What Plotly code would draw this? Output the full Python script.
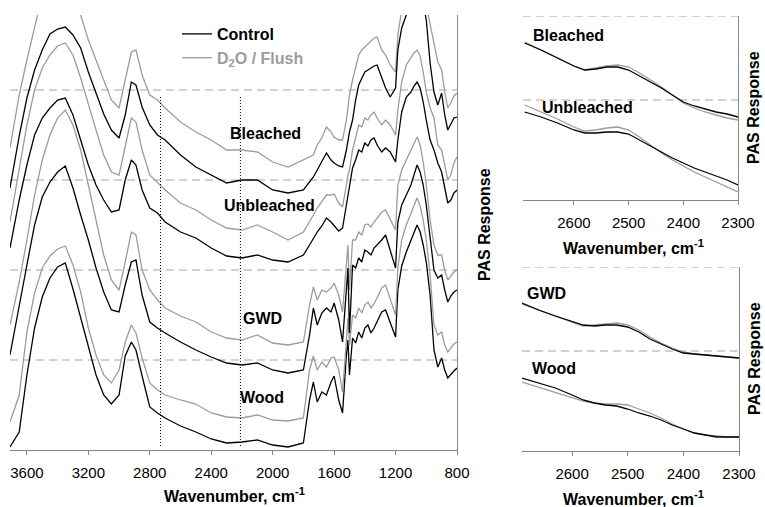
import plotly.graph_objects as go

# ---------------- data: main panel (PAS response, arbitrary units) ----------------
wavenumber = [3710, 3650, 3600, 3550, 3500, 3450, 3400, 3350, 3300, 3250, 3200, 3150, 3100, 3050,
              3000, 2960, 2920, 2890, 2850, 2800, 2750, 2700, 2600, 2500, 2400, 2300, 2200, 2100,
              2000, 1900, 1800, 1760, 1735, 1710, 1680, 1650, 1620, 1600, 1570, 1545, 1520, 1510,
              1500, 1480, 1460, 1440, 1420, 1400, 1380, 1360, 1340, 1320, 1290, 1265, 1235, 1200,
              1185, 1160, 1130, 1100, 1080, 1060, 1040, 1020, 1000, 975, 950, 925, 900, 880, 860,
              840, 820, 800]

wood_control = [3, 18, 75, 122, 153, 172, 183, 187, 161, 133, 103, 75, 55, 46, 55, 94, 108, 100, 74, 43,
                37, 32, 24, 18, 11, 7, 8, 10, 5, 3, 7, 50, 68, 48, 58, 55, 68, 74, 50, 37, 95, 110,
                75, 112, 107, 118, 112, 122, 125, 117, 122, 128, 138, 140, 128, 113, 160, 184, 198, 210,
                218, 225, 218, 205, 188, 155, 100, 83, 92, 80, 72, 76, 79, 82]
wood_d2o = [28, 55, 118, 157, 182, 194, 201, 204, 185, 158, 122, 95, 75, 67, 80, 108, 125, 117, 92, 67,
            60, 55, 50, 46, 37, 33, 32, 35, 30, 29, 32, 80, 94, 80, 88, 83, 92, 93, 80, 58, 110, 132,
            105, 135, 132, 142, 137, 145, 148, 142, 146, 152, 162, 165, 152, 135, 182, 210, 225, 237,
            245, 252, 244, 230, 210, 175, 125, 115, 118, 105, 98, 102, 106, 108]
gwd_control = [95, 142, 185, 225, 253, 268, 278, 284, 262, 235, 210, 182, 158, 140, 138, 165, 188, 190,
               155, 128, 122, 117, 108, 100, 93, 87, 85, 87, 80, 77, 80, 115, 142, 125, 137, 142, 138,
               147, 130, 108, 160, 182, 117, 185, 182, 192, 188, 200, 198, 195, 202, 205, 210, 215,
               200, 182, 228, 245, 255, 265, 275, 285, 278, 265, 245, 210, 180, 172, 175, 160, 148,
               154, 158, 160]
gwd_d2o = [125, 168, 210, 255, 290, 315, 332, 340, 325, 300, 265, 230, 195, 170, 160, 188, 218, 215, 180,
           160, 150, 142, 134, 128, 118, 112, 110, 115, 107, 105, 108, 145, 163, 150, 160, 158, 162, 167,
           155, 138, 185, 205, 160, 210, 210, 218, 215, 225, 226, 223, 228, 232, 238, 240, 230, 220,
           265, 280, 290, 300, 307, 313, 305, 288, 265, 230, 205, 195, 195, 180, 170, 174, 178, 180]
unbl_control = [202, 250, 285, 315, 332, 342, 350, 352, 335, 310, 285, 265, 250, 238, 240, 270, 290, 285,
                260, 242, 237, 228, 218, 212, 202, 194, 192, 195, 190, 188, 195, 205, 212, 218, 224, 232,
                228, 224, 219, 222, 245, 255, 264, 282, 290, 300, 298, 307, 304, 310, 312, 305, 298,
                302, 298, 288, 310, 338, 353, 358, 364, 368, 362, 348, 330, 310, 300, 287, 278, 262,
                247, 250, 257, 260]
unbl_d2o = [228, 280, 325, 360, 382, 395, 404, 407, 395, 372, 345, 320, 295, 278, 275, 305, 332, 328, 300,
            275, 267, 260, 247, 240, 230, 222, 220, 225, 218, 210, 218, 228, 235, 242, 248, 255, 255,
            256, 247, 243, 265, 275, 280, 300, 312, 325, 323, 332, 330, 335, 338, 332, 325, 330, 325,
            315, 340, 368, 385, 392, 397, 400, 394, 378, 358, 342, 332, 305, 300, 285, 270, 275, 287, 293]
bl_control = [262, 314, 352, 380, 400, 416, 421, 423, 415, 402, 378, 358, 336, 320, 312, 335, 368, 365,
              343, 325, 315, 310, 295, 283, 275, 267, 270, 270, 260, 257, 260, 268, 273, 280, 288, 297,
              290, 287, 284, 283, 300, 310, 318, 330, 350, 365, 372, 378, 380, 382, 384, 385, 372, 362,
              353, 362, 400, 422, 435, 445, 450, 452, 450, 447, 430, 387, 358, 345, 357, 335, 320, 326,
              332, 333]
bl_d2o = [302, 355, 390, 422, 455, 480, 495, 500, 475, 435, 410, 390, 370, 350, 342, 370, 398, 400, 375,
          355, 350, 342, 328, 318, 310, 300, 300, 298, 288, 283, 290, 293, 295, 305, 312, 323, 318, 313,
          310, 310, 330, 342, 355, 370, 382, 395, 400, 403, 407, 410, 412, 413, 400, 395, 385, 378, 415,
          440, 455, 465, 470, 472, 470, 460, 445, 425, 405, 388, 380, 358, 342, 347, 354, 357]

main_ticks = [3600, 3200, 2800, 2400, 2000, 1600, 1200, 800]
main_grid = [90, 180, 270, 360]
marker_wavenumbers = [2730, 2210]

# ---------------- data: expanded 2690-2300 cm-1 panels ----------------
wn_zoom = [2690, 2660, 2630, 2600, 2580, 2560, 2540, 2520, 2500, 2480, 2460, 2440, 2420, 2400, 2380,
           2360, 2340, 2320, 2300]
zbl_control = [157, 150, 142, 134, 130, 131, 133, 133, 130, 124, 118, 112, 105, 98, 94, 91, 88, 86, 83]
zbl_d2o = [158, 150, 142, 134, 130, 132, 134, 135, 133, 127, 120, 113, 105, 97, 92, 88, 85, 82, 80]
zunbl_control = [88, 83, 77, 70, 67, 67, 68, 68, 66, 60, 54, 48, 42, 37, 32, 28, 24, 20, 15]
zunbl_d2o = [95, 88, 81, 73, 69, 70, 72, 73, 70, 63, 55, 47, 40, 34, 28, 23, 18, 13, 8]
zgwd_control = [148, 141, 135, 130, 126, 125, 126, 126, 124, 119, 112, 107, 102, 98, 97, 96, 95, 94, 93]
zgwd_d2o = [147, 141, 135, 129, 125, 126, 127, 128, 126, 121, 114, 108, 103, 99, 97, 96, 95, 94, 93]
zwood_control = [73, 68, 63, 56, 51, 48, 46, 45, 42, 38, 35, 31, 26, 22, 18, 16, 14, 14, 14]
zwood_d2o = [69, 64, 59, 54, 50, 48, 47, 47, 46, 42, 38, 33, 27, 22, 18, 16, 15, 14, 14]
zoom_ticks = [2600, 2500, 2400, 2300]
zoom_grid = [100, 184]

# ---------------- styling ----------------
W, H = 765, 507
BLACK = "#000000"
GRAY = "#9c9c9c"
AXIS = "#868686"
GRID = "#a4a4a4"
FONT = "Arial, Liberation Sans, sans-serif"
LW = 1.3


def fx(p):
    return p / W


def fy(p):
    return 1 - p / H


fig = go.Figure()


def add(x, y, color, xa, ya, name=None, legend=False):
    fig.add_trace(go.Scatter(x=x, y=y, mode="lines", line=dict(color=color, width=LW),
                             xaxis=xa, yaxis=ya, name=name, showlegend=legend,
                             hoverinfo="skip"))


# main panel
add(wavenumber, wood_control, BLACK, "x", "y", "<b>Control</b>", True)
add(wavenumber, wood_d2o, GRAY, "x", "y",
    '<b><span style="color:#9c9c9c">D<sub>2</sub>O / Flush</span></b>', True)
for blk, gry in [(gwd_control, gwd_d2o), (unbl_control, unbl_d2o), (bl_control, bl_d2o)]:
    add(wavenumber, gry, GRAY, "x", "y")
    add(wavenumber, blk, BLACK, "x", "y")

# top-right panel
add(wn_zoom, zbl_d2o, GRAY, "x2", "y2")
add(wn_zoom, zbl_control, BLACK, "x2", "y2")
add(wn_zoom, zunbl_d2o, GRAY, "x2", "y2")
add(wn_zoom, zunbl_control, BLACK, "x2", "y2")

# bottom-right panel
add(wn_zoom, zgwd_d2o, GRAY, "x3", "y3")
add(wn_zoom, zgwd_control, BLACK, "x3", "y3")
add(wn_zoom, zwood_d2o, GRAY, "x3", "y3")
add(wn_zoom, zwood_control, BLACK, "x3", "y3")

tickfont = dict(family=FONT, size=15, color="#000000")


def xaxis_cfg(domain, rng, ticks, anchor):
    return dict(domain=domain, range=rng, anchor=anchor, tickmode="array", tickvals=ticks,
                ticks="outside", ticklen=4, tickcolor=AXIS, tickwidth=1,
                showline=True, linecolor=AXIS, linewidth=1, showgrid=False, zeroline=False,
                tickfont=tickfont, ticklabelstandoff=5, automargin=False)


def yaxis_cfg(domain, rng, anchor):
    return dict(domain=domain, range=rng, anchor=anchor, side="right", tickmode="array",
                tickvals=[], showticklabels=False, ticks="", showline=True, linecolor=AXIS,
                linewidth=1, showgrid=False, zeroline=False, automargin=False)


fig.update_layout(
    width=W, height=H, autosize=False, margin=dict(l=0, r=0, t=0, b=0, autoexpand=False),
    paper_bgcolor="white", plot_bgcolor="white",
    font=dict(family=FONT, size=15, color="#000000"),
    xaxis=xaxis_cfg([fx(10), fx(457)], [3710, 800], main_ticks, "y"),
    yaxis=yaxis_cfg([fy(450), fy(15)], [0, 435], "x"),
    xaxis2=xaxis_cfg([fx(523), fx(738)], [2693, 2300], zoom_ticks, "y2"),
    yaxis2=yaxis_cfg([fy(200), fy(16)], [0, 184], "x2"),
    xaxis3=xaxis_cfg([fx(522), fx(739)], [2690, 2300], zoom_ticks, "y3"),
    yaxis3=yaxis_cfg([fy(451), fy(267)], [0, 184], "x3"),
    legend=dict(x=fx(177), y=fy(17), xanchor="left", yanchor="top", bgcolor="rgba(0,0,0,0)",
                font=dict(family=FONT, size=16, color="#000000"), tracegroupgap=0,
                itemwidth=30),
    showlegend=True,
)

# dashed horizontal gridlines
for xa, ya, levels in [("x", "y", main_grid), ("x2", "y2", zoom_grid), ("x3", "y3", zoom_grid)]:
    for lv in levels:
        fig.add_shape(type="line", xref=f"{xa} domain", yref=ya, x0=0, x1=1, y0=lv, y1=lv,
                      line=dict(color=GRID, width=1, dash="8px,5px"), layer="below")

# dotted marker lines
for wn in marker_wavenumbers:
    fig.add_shape(type="line", xref="x", yref="y", x0=wn, x1=wn, y0=4, y1=353,
                  line=dict(color="#000000", width=1, dash="1px,2px"))

bold = dict(family=FONT, size=16, color="#000000")
title_font = dict(family=FONT, size=16, color="#000000")

# sample labels, main panel
for text, x, y in [("Bleached", 2048, 317), ("Unbleached", 2022, 245), ("GWD", 2068, 132),
                   ("Wood", 2068, 53)]:
    fig.add_annotation(text=f"<b>{text}</b>", x=x, y=y, xref="x", yref="y", showarrow=False,
                       font=bold, xanchor="center", yanchor="middle")

# sample labels, zoom panels
for text, x, y, xa, ya in [("Bleached", 2679, 165, "x2", "y2"), ("Unbleached", 2662, 93, "x2", "y2"),
                           ("GWD", 2684, 158, "x3", "y3"), ("Wood", 2675, 83, "x3", "y3")]:
    fig.add_annotation(text=f"<b>{text}</b>", x=x, y=y, xref=xa, yref=ya, showarrow=False,
                       font=bold, xanchor="left", yanchor="middle")

# axis titles
for cx, cy in [(234, 495), (633, 247), (633, 498)]:
    fig.add_annotation(text="<b>Wavenumber, cm<sup>-1</sup></b>", x=fx(cx), y=fy(cy), xref="paper",
                       yref="paper", showarrow=False, font=title_font, xanchor="center",
                       yanchor="middle")
for cx, cy in [(484, 225), (754, 108), (754, 359)]:
    fig.add_annotation(text="<b>PAS Response</b>", x=fx(cx), y=fy(cy), xref="paper", yref="paper",
                       showarrow=False, font=title_font, textangle=-90, xanchor="center",
                       yanchor="middle")

fig.write_html("out.html", config={"responsive": False})
